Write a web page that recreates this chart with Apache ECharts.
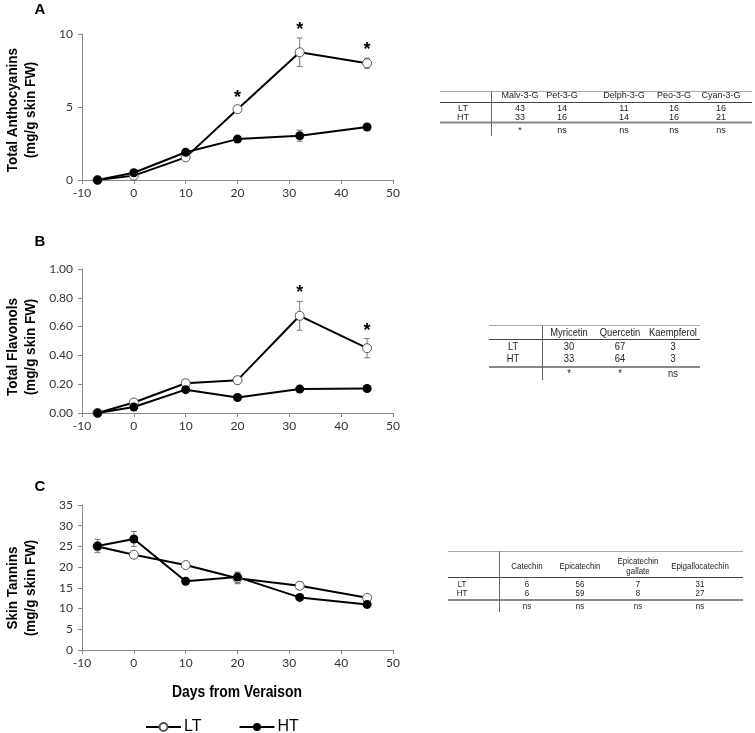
<!DOCTYPE html>
<html>
<head>
<meta charset="utf-8">
<script src="https://cdn.jsdelivr.net/npm/echarts@6/dist/echarts.min.js"></script>
<style>html,body{margin:0;padding:0;background:#fff}#chart{width:755px;height:733px}</style>
</head>
<body>
<div id="chart"></div>
<script>
// days from veraison
const days = [-7, 0, 10, 20, 32, 45];

// A - total anthocyanins
const anthoLT = [0, 0.3, 1.55, 4.85, 8.75, 8.0];
const anthoLTErr = [0, 0.1, 0.1, 0.2, 0.98, 0.35];
const anthoHT = [0, 0.5, 1.9, 2.8, 3.03, 3.63];
const anthoHTErr = [0, 0.1, 0.1, 0.1, 0.38, 0.12];
const anthoStars = [0, 0, 0, 1, 1, 1];

// B - total flavonols
const flavLT = [0, 0.073, 0.207, 0.228, 0.675, 0.45];
const flavLTErr = [0, 0.01, 0.025, 0.025, 0.1, 0.067];
const flavHT = [0, 0.042, 0.162, 0.108, 0.166, 0.17];
const flavHTErr = [0, 0.01, 0.015, 0.008, 0.01, 0.012];
const flavStars = [0, 0, 0, 0, 1, 1];

// C - skin tannins
const tanLT = [25.0, 23.0, 20.5, 17.3, 15.5, 12.6];
const tanLTErr = [0.6, 0.4, 0.4, 1.3, 0.9, 0.5];
const tanHT = [25.1, 26.8, 16.6, 17.6, 12.7, 11.0];
const tanHTErr = [1.6, 1.8, 0.5, 1.2, 0.5, 0.8];

// side tables (%)
const tblAHead = ['Malv-3-G', 'Pet-3-G', 'Delph-3-G', 'Peo-3-G', 'Cyan-3-G'];
const tblALT = [43, 14, 11, 16, 16];
const tblAHT = [33, 16, 14, 16, 21];
const tblASig = ['*', 'ns', 'ns', 'ns', 'ns'];

const tblBHead = ['Myricetin', 'Quercetin', 'Kaempferol'];
const tblBLT = [30, 67, 3];
const tblBHT = [33, 64, 3];
const tblBSig = ['*', '*', 'ns'];

const tblCHead = ['Catechin', 'Epicatechin', 'Epicatechin\ngallate', 'Epigallocatechin'];
const tblCLT = [6, 56, 7, 31];
const tblCHT = [6, 59, 8, 27];
const tblCSig = ['ns', 'ns', 'ns', 'ns'];

const sans = "'Liberation Sans', Arial, sans-serif";
const tickFont = "Lato, 'Open Sans', sans-serif";

const chart = echarts.init(document.getElementById('chart'));

const grids = [
	{ left: 82, width: 311, top: 34, height: 146 },
	{ left: 82, width: 311, top: 269, height: 144 },
	{ left: 82, width: 311, top: 505, height: 145 }
];

function xAxis(i) {
	return {
		type: 'value', gridIndex: i, min: -10, max: 50, interval: 10,
		axisLine: { show: true, lineStyle: { color: '#888' } },
		axisTick: { show: true, length: 4, lineStyle: { color: '#888' } },
		axisLabel: { color: '#333', fontSize: 12, fontFamily: tickFont, margin: 7 },
		splitLine: { show: false }
	};
}

function yAxis(i, max, interval, fmt) {
	return {
		type: 'value', gridIndex: i, min: 0, max: max, interval: interval,
		axisLine: { show: true, onZero: false, lineStyle: { color: '#888' } },
		axisTick: { show: true, length: 4, lineStyle: { color: '#888' } },
		axisLabel: { color: '#333', fontSize: 12, fontFamily: tickFont, margin: 9, formatter: fmt },
		splitLine: { show: false }
	};
}

function lineSeries(name, vals, i) {
	const open = name === 'LT';
	return {
		name: name, type: 'line', xAxisIndex: i, yAxisIndex: i, z: 3,
		data: days.map((d, k) => [d, vals[k]]),
		symbol: 'circle', symbolSize: 9,
		lineStyle: { color: '#000', width: 2 },
		itemStyle: open ? { color: '#fff', borderColor: '#555', borderWidth: 1 } : { color: '#000' },
		emphasis: { disabled: true }
	};
}

function errSeries(vals, errs, i) {
	return {
		type: 'custom', xAxisIndex: i, yAxisIndex: i, z: 2, silent: true,
		data: days.map((d, k) => [d, vals[k], errs[k]]),
		renderItem: function (params, api) {
			const x = api.value(0), y = api.value(1), e = api.value(2);
			if (!e) return null;
			const t = api.coord([x, y + e]), b = api.coord([x, y - e]);
			const st = { stroke: '#777', lineWidth: 1 };
			return {
				type: 'group', children: [
					{ type: 'line', shape: { x1: t[0], y1: t[1], x2: b[0], y2: b[1] }, style: st },
					{ type: 'line', shape: { x1: t[0] - 3, y1: t[1], x2: t[0] + 3, y2: t[1] }, style: st },
					{ type: 'line', shape: { x1: b[0] - 3, y1: b[1], x2: b[0] + 3, y2: b[1] }, style: st }
				]
			};
		}
	};
}

function starSeries(vals, errs, stars, i) {
	return {
		type: 'custom', xAxisIndex: i, yAxisIndex: i, z: 4, silent: true,
		data: days.map((d, k) => [d, vals[k], errs[k], stars[k]]).filter(r => r[3]),
		renderItem: function (params, api) {
			const p = api.coord([api.value(0), api.value(1) + api.value(2)]);
			return {
				type: 'text', x: p[0], y: p[1] - 17,
				style: { text: '*', fill: '#000', font: 'bold 18px Arial, sans-serif',
					textAlign: 'center', align: 'center', textVerticalAlign: 'top', verticalAlign: 'top' }
			};
		}
	};
}

function txt(x, y, s, font, sx, lh) {
	return {
		type: 'text', x: x, y: y, scaleX: sx || 1,
		style: { text: s, font: font, fill: '#222', textAlign: 'center', align: 'center',
			textVerticalAlign: 'middle', verticalAlign: 'middle', lineHeight: lh || 10 }
	};
}

function hline(x1, x2, y, color, w) {
	return { type: 'line', shape: { x1: x1, y1: y, x2: x2, y2: y }, style: { stroke: color, lineWidth: w } };
}

function makeTable(L, head, lt, ht, sig) {
	const f = L.size + 'px ' + sans;
	const els = [];
	els.push(hline(L.left, L.right, L.top, '#aaa', 1));
	els.push(hline(L.left, L.right, L.headLine, '#444', 1));
	els.push(hline(L.left, L.right, L.thick, '#888', 2));
	els.push({ type: 'line', shape: { x1: L.vx, y1: L.top, x2: L.vx, y2: L.bottom }, style: { stroke: '#666', lineWidth: 1 } });
	els.push(txt(L.labelX, L.ltY, 'LT', f, L.sx));
	els.push(txt(L.labelX, L.htY, 'HT', f, L.sx));
	head.forEach((h, k) => {
		const cx = L.cols[k];
		els.push(txt(cx, L.headY, h, f, L.sx, L.size + 1));
		els.push(txt(cx, L.ltY, String(lt[k]), f, L.sx));
		els.push(txt(cx, L.htY, String(ht[k]), f, L.sx));
		els.push(txt(cx, L.sigY, sig[k], f, L.sx));
	});
	return els;
}

function yTitle(cy, s) {
	const t = txt(22, cy, s, 'bold 15px ' + sans, 0.9, 18);
	t.rotation = Math.PI / 2;
	t.style.fill = '#000';
	return t;
}

function label(x, y, s, font, sx) {
	const t = txt(x, y, s, font, sx, 18);
	t.style.fill = '#000';
	return t;
}

const graphics = [].concat(
	makeTable({ size: 9, sx: 1, left: 440, right: 752, top: 91.5, headY: 96, headLine: 102.5, ltY: 109, htY: 117.5,
		thick: 122.5, sigY: 131, vx: 491.5, bottom: 136, labelX: 463, cols: [520, 562, 624, 674, 721] },
		tblAHead, tblALT, tblAHT, tblASig),
	makeTable({ size: 11, sx: 0.85, left: 489, right: 700, top: 325.5, headY: 333, headLine: 339.5, ltY: 347, htY: 359,
		thick: 367, sigY: 374, vx: 542.5, bottom: 380, labelX: 513, cols: [569, 620, 673] },
		tblBHead, tblBLT, tblBHT, tblBSig),
	makeTable({ size: 9, sx: 0.88, left: 448, right: 743, top: 551.5, headY: 567, headLine: 577.5, ltY: 585, htY: 593.5,
		thick: 600, sigY: 607, vx: 499.5, bottom: 612, labelX: 462, cols: [527, 580, 638, 700] },
		tblCHead, tblCLT, tblCHT, tblCSig),
	[
		yTitle(110, 'Total Anthocyanins\n(mg/g skin FW)'),
		yTitle(347, 'Total Flavonols\n(mg/g skin FW)'),
		yTitle(588, 'Skin Tannins\n(mg/g skin FW)'),
		label(40, 10, 'A', 'bold 15px ' + sans),
		label(40, 242, 'B', 'bold 15px ' + sans),
		label(40, 487, 'C', 'bold 15px ' + sans),
		label(237, 693, 'Days from Veraison', 'bold 16px ' + sans, 0.87)
	]
);

const option = {
	animation: false,
	backgroundColor: '#fff',
	grid: grids,
	xAxis: [xAxis(0), xAxis(1), xAxis(2)],
	yAxis: [
		yAxis(0, 10, 5),
		yAxis(1, 1, 0.2, v => v.toFixed(2)),
		yAxis(2, 35, 5)
	],
	legend: {
		data: ['LT', 'HT'], left: 145, top: 719, padding: 0, itemWidth: 35, itemHeight: 10, itemGap: 37,
		textStyle: { fontSize: 16, fontFamily: sans, color: '#000', padding: [0, 0, 0, -2] },
		selectedMode: false
	},
	graphic: graphics,
	series: [
		errSeries(anthoLT, anthoLTErr, 0), errSeries(anthoHT, anthoHTErr, 0),
		lineSeries('LT', anthoLT, 0), lineSeries('HT', anthoHT, 0),
		starSeries(anthoLT, anthoLTErr, anthoStars, 0),
		errSeries(flavLT, flavLTErr, 1), errSeries(flavHT, flavHTErr, 1),
		lineSeries('LT', flavLT, 1), lineSeries('HT', flavHT, 1),
		starSeries(flavLT, flavLTErr, flavStars, 1),
		errSeries(tanLT, tanLTErr, 2), errSeries(tanHT, tanHTErr, 2),
		lineSeries('LT', tanLT, 2), lineSeries('HT', tanHT, 2)
	]
};
chart.setOption(option);
</script>
</body>
</html>
